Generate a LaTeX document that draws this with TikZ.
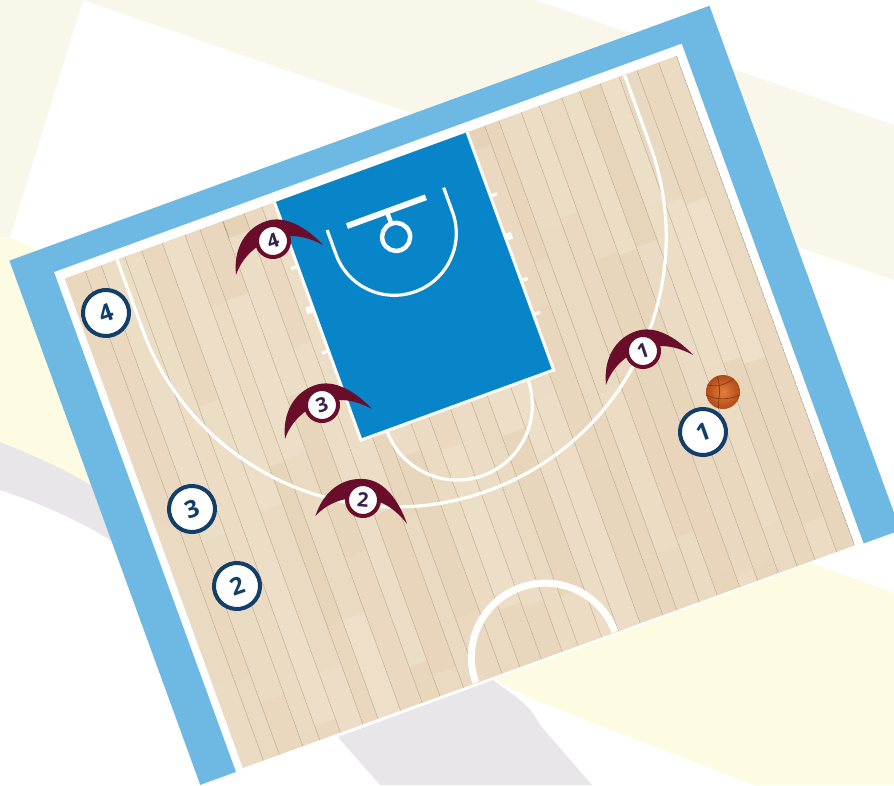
\documentclass[tikz,border=0pt]{standalone}
\usepackage{fontspec}
\setmainfont{Open Sans}
\definecolor{courtblue}{HTML}{6DB9E4}
\definecolor{paintblue}{HTML}{0884C9}
\definecolor{woodA}{HTML}{EFE1CC}
\definecolor{woodB}{HTML}{E6D3B7}
\definecolor{plankline}{HTML}{A89880}
\definecolor{maroonp}{HTML}{6A0D2B}
\definecolor{navyp}{HTML}{123F6A}
\definecolor{digitp}{HTML}{33234F}
\definecolor{bgcream}{HTML}{F9F7E9}
\definecolor{bgyellow}{HTML}{FDFBE2}
\definecolor{bggrey}{HTML}{E9E6EA}
\definecolor{DEDA}{HTML}{E57F3E}
\definecolor{BADA}{HTML}{B04A18}
\tikzset{
  x=1pt,y=-1pt,
  court/.style={shift={(54,272)},rotate=20},
  whiteline/.style={draw=white!97!woodB,line width=3.2pt},
  attacker/.style={circle,draw=navyp,line width=4pt,fill=white,minimum size=46pt,inner sep=0pt,
    text=navyp,font=\fontsize{24}{24}\selectfont\bfseries,rotate=20},
  defnode/.style={circle,draw=maroonp,line width=4pt,fill=white,minimum size=32pt,inner sep=0pt,
    text=digitp,font=\fontsize{20}{20}\selectfont\bfseries},
  ballnode/.style={circle,minimum size=34pt,inner sep=0pt,inner color=DEDA,outer color=BADA},
  seam/.style={draw=BADA!70!black,line width=.6pt},
}
\newcommand{\defender}[5]{%
  \begin{scope}[shift={(#2,#3)},rotate=#4]
    \fill[maroonp] (-46,20) .. controls (-40,-6) and (-22,-21) .. (0,-21)
      .. controls (20,-21) and (36,-2) .. (46,20)
      .. controls (33,6) and (18,-2) .. (0,-2)
      .. controls (-18,-2) and (-35,6) .. (-46,20) -- cycle;
  \end{scope}
  \node[defnode,rotate=#4] (#1) at (#2,#3) {#5};}
\begin{document}
\begin{tikzpicture}
\useasboundingbox (0,0) rectangle (894,785);
\clip (0,0) rectangle (894,785);
% background
\fill[white] (0,0) rectangle (894,785);
\fill[bgcream] (83,0) -- (535,0) -- (894,125) -- (894,280) -- cycle;
\fill[bgcream] (0,0) -- (83,0) -- (10,237) -- (0,237) -- cycle;
\fill[bgyellow] (0,237) -- (10,237) -- (40,252) -- (120,500) -- (0,442) -- cycle;
\fill[bggrey] (0,442) .. controls (40,458) and (70,472) .. (95,488) -- (125,550)
  .. controls (90,525) and (45,505) .. (0,490) -- cycle;
\fill[bggrey] (338,737) -- (493,680) .. controls (520,700) and (530,705) .. (540,725)
  -- (592,785) -- (380,785) -- cycle;
\fill[bgyellow] (493,680) -- (811,563) -- (894,593) -- (894,785) -- (754,785) -- (535,700) -- cycle;
% court surfaces
\begin{scope}[court]
  \fill[white!96!woodB] (0,0) rectangle (668,532);
  \fill[white] (0,0) rectangle (668,530);
  \fill[courtblue] (-38,532) -- (-38,-26) -- (707,-26) -- (707,532) -- (668,532) -- (668,0) -- (0,0) -- (0,532) -- cycle;
  \begin{scope}
    \clip (8,10) rectangle (659,530.5);
    \fill[woodB] (8,10) rectangle (659,531);
    \pgfmathsetseed{11}
    \foreach \a/\b in {8/30,30/47,47/72,72/90,90/112,112/136,136/152,152/176,176/199,199/218,218/243,243/259,259/284,284/303,303/326,326/348,348/365,365/390,390/408,408/431,431/455,455/470,470/494,494/513,513/537,537/556,556/578,578/598,598/617,617/640,640/659}{
      \pgfmathrandominteger{\off}{-90}{30}
      \foreach \k in {0,1,2,3}{
        \pgfmathrandominteger{\tint}{15}{85}
        \pgfmathsetmacro{\tone}{\off+\k*170}
        \pgfmathsetmacro{\ttwo}{\tone+170}
        \fill[woodA!\tint!woodB] (\a,\tone) rectangle (\b,\ttwo);
      }
      \draw[plankline,line width=1pt,opacity=.8] (\b,10) -- (\b,531);
    }
  \end{scope}
  % lane
  \fill[paintblue] (231,10) rectangle (436,263);
  \draw[whiteline,line width=3pt] (231,10) -- (231,263) -- (436,263) -- (436,10);
  % lane ticks
  \foreach \t in {78,168}{
    \draw[whiteline] (224,\t) -- (231,\t);
    \draw[whiteline] (436,\t) -- (443,\t);}
  \draw[whiteline,line width=7pt] (224,123) -- (231,123);
  \draw[whiteline,line width=7pt] (436,122) -- (443,122);
  \draw[whiteline] (436,204) -- (443,204);
  % three point line
  \draw[whiteline] (63.5,10) -- (63.5,84) arc[start angle=180,end angle=0,radius=270] -- (603.5,10);
  % free throw
  \draw[whiteline] (258.5,263) arc[start angle=180,end angle=0,radius=75];
  % centre circle
  \begin{scope}
    \clip (8,10) rectangle (659,530);
    \draw[white!97!woodB,line width=7pt] (256,530) arc[start angle=180,end angle=360,radius=74];
  \end{scope}
  % restricted area
  \draw[whiteline] (271,54) -- (271,80) arc[start angle=180,end angle=0,radius=62] -- (395,54);
  % backboard & hoop
  \draw[white,line width=6pt] (291,57) -- (375,57);
  \draw[white,line width=4.5pt] (333.5,57) -- (333.5,70);
  \draw[white,line width=4.5pt] (333.5,84) circle[radius=14];
\end{scope}
% ball
\node[ballnode] (ball) at (723,392) {};
\draw[seam] (ball.155) .. controls (716,388) and (726,384) .. (ball.50);
\draw[seam] (ball.110) .. controls (722,390) and (718,398) .. (ball.255);
\draw[seam] (ball.190) .. controls (722,402) and (732,398) .. (ball.350);
% players
\node[attacker] (a1) at (703,432) {1};
\node[attacker] (a2) at (237,586) {2};
\node[attacker] (a3) at (192,509) {3};
\node[attacker] (a4) at (106,313) {4};
\defender{d1}{643}{351}{19}{1}
\defender{d2}{363}{500}{-5}{2}
\defender{d3}{322}{405}{19}{3}
\defender{d4}{273}{241}{19}{4}
\end{tikzpicture}
\end{document}
